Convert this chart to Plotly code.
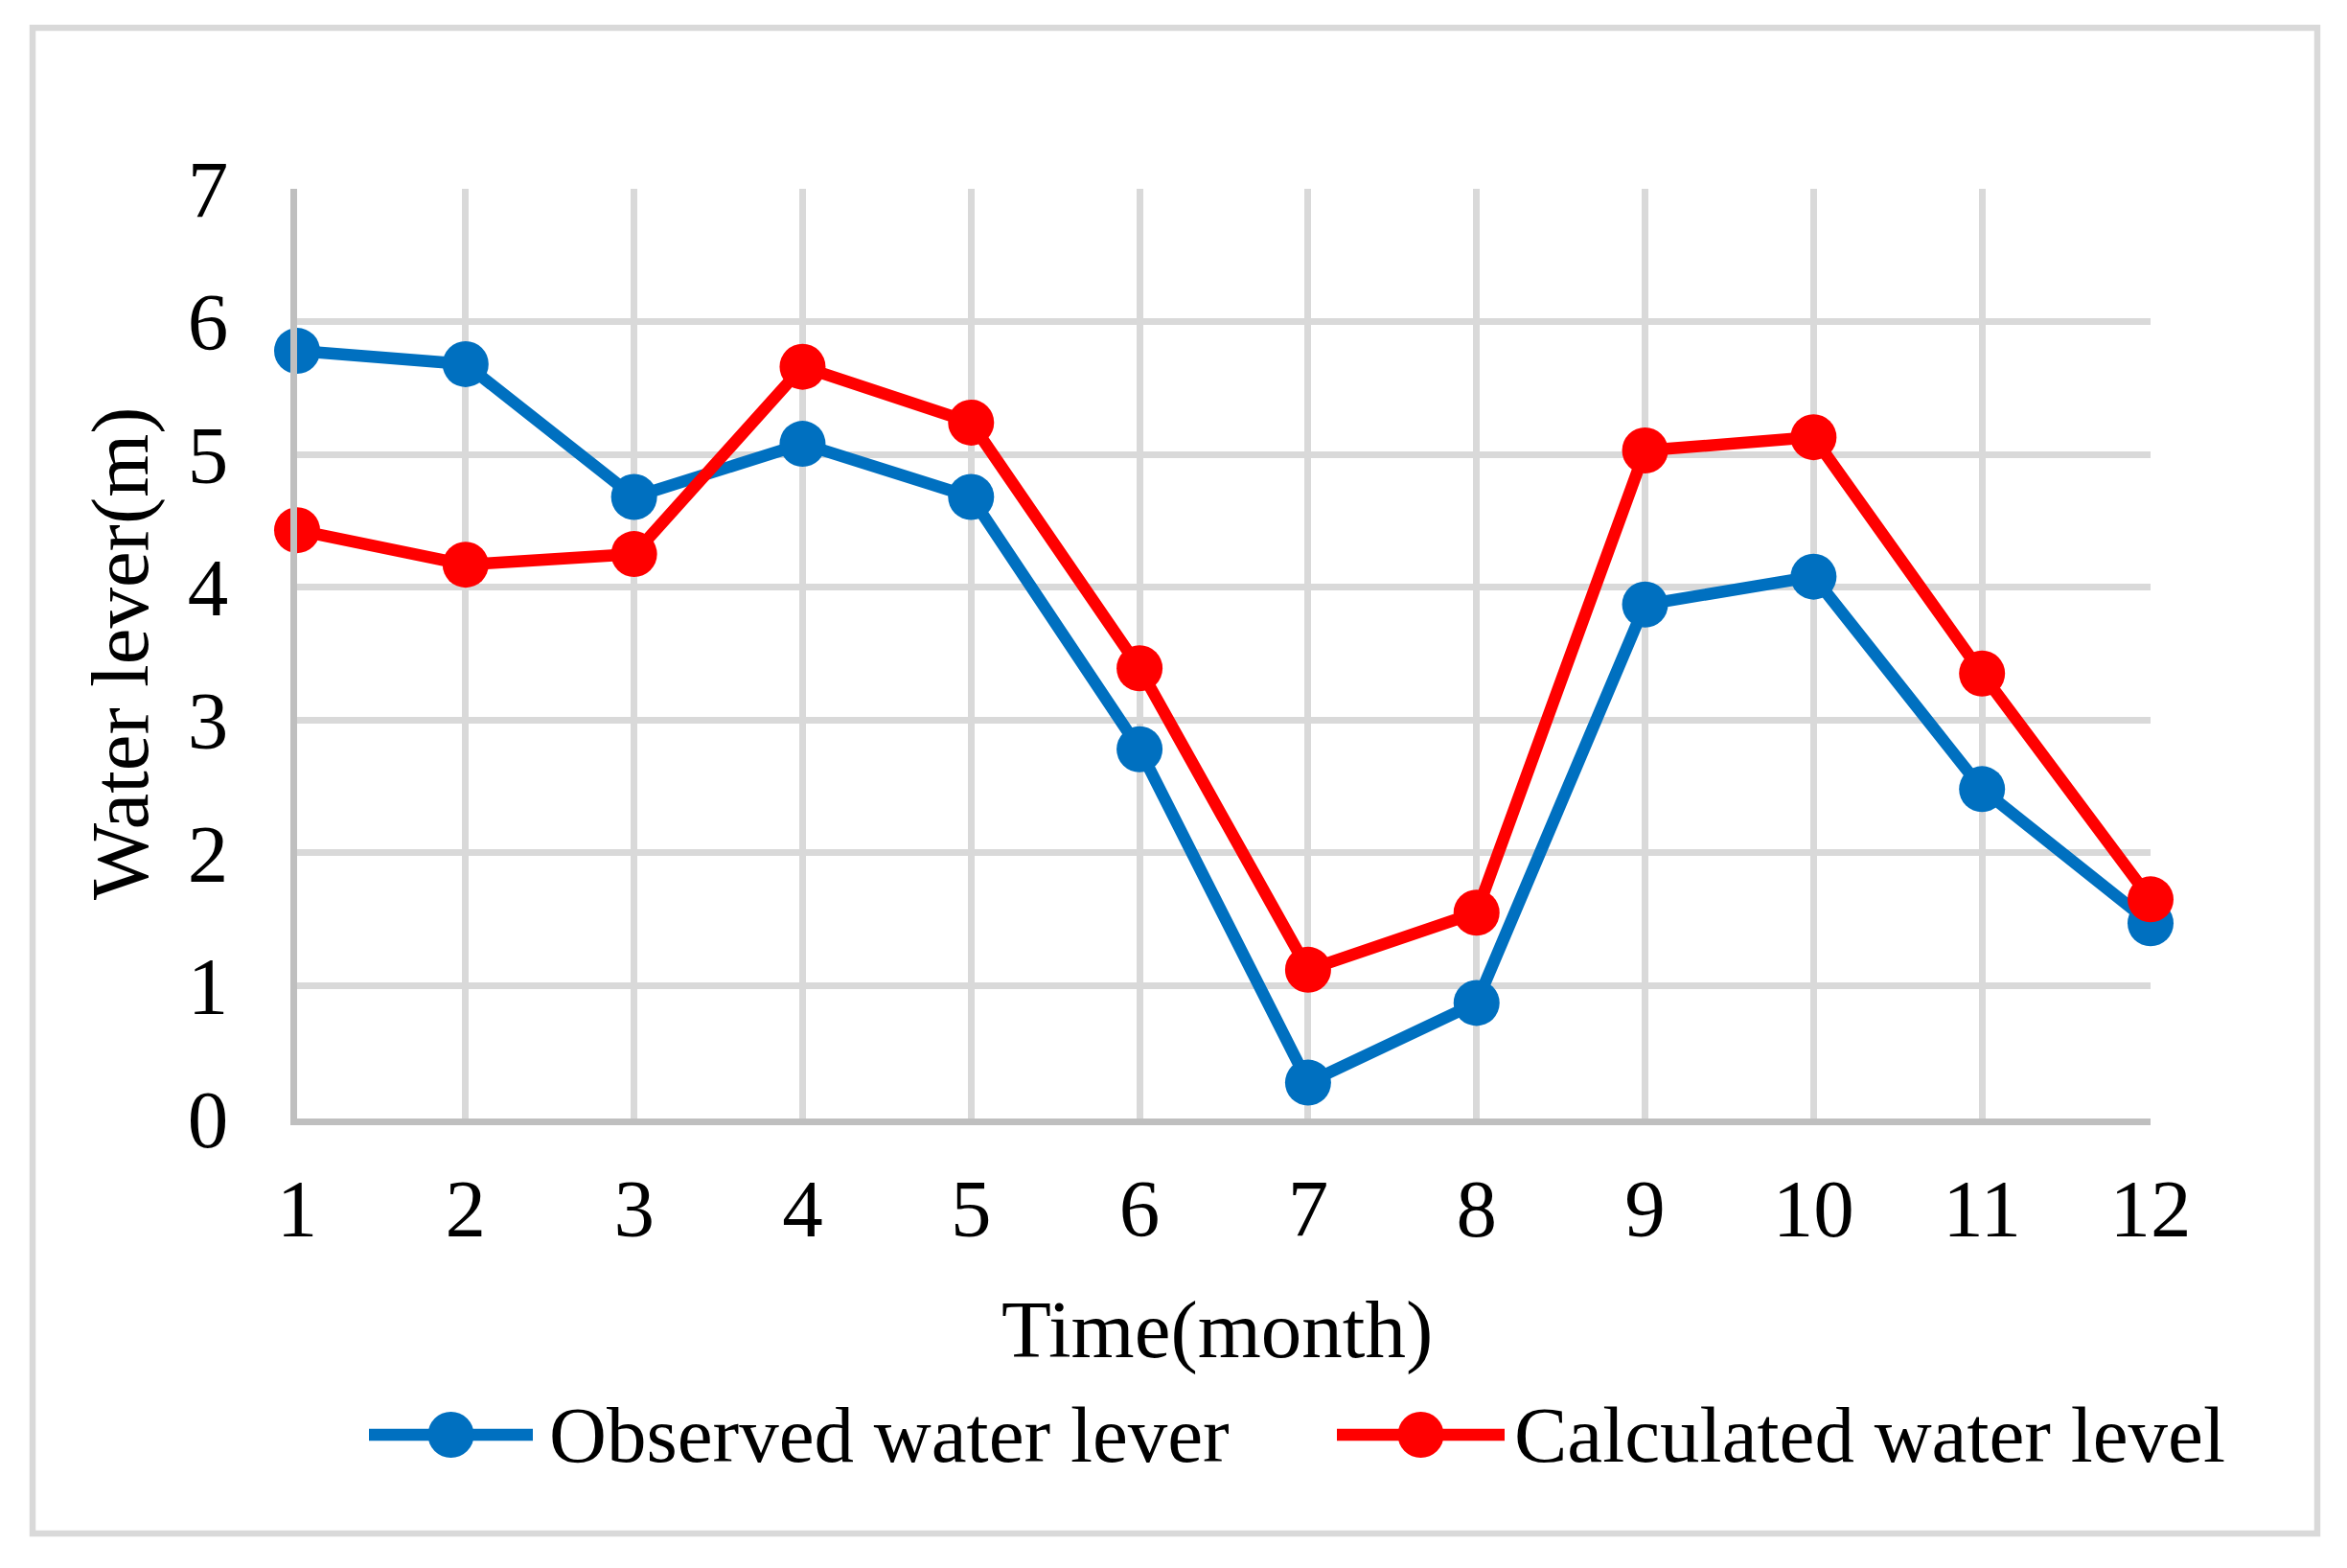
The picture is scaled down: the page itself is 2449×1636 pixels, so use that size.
import plotly.graph_objects as go

# ---- data ----
months = [1, 2, 3, 4, 5, 6, 7, 8, 9, 10, 11, 12]
observed = [5.78, 5.68, 4.68, 5.08, 4.68, 2.78, 0.27, 0.87, 3.87, 4.08, 2.48, 1.47]
calculated = [4.43, 4.17, 4.25, 5.66, 5.24, 3.39, 1.12, 1.55, 5.03, 5.13, 3.35, 1.65]
y_ticks = [0, 1, 2, 3, 4, 5, 6, 7]
series_names = ["Observed water lever", "Calculated water level"]
x_title = "Time(month)"
y_title = "Water lever(m)"

OFF = 8  # browser body margin
W, H = 2449 - OFF, 1636 - OFF
L, R, T, B = 310 - OFF, 2244 - OFF, 197 - OFF, 1167 - OFF   # plot area in pixels
BLUE, RED = "#0070C0", "#FF0000"
GRID, AXIS = "#D9D9D9", "#BFBFBF"
FONT = "Liberation Serif"
FS = 85
FS_LEG = 83


def px(x):
    return (x - OFF - L) / (R - L)


def py(y):
    return (B - (y - OFF)) / (B - T)


fig = go.Figure()
for name, vals, col in [(series_names[0], observed, BLUE), (series_names[1], calculated, RED)]:
    fig.add_trace(go.Scatter(
        x=months, y=vals, name=name, mode="lines+markers",
        line=dict(color=col, width=12.5),
        marker=dict(color=col, size=48, line=dict(width=0)),
        cliponaxis=False, showlegend=False,
    ))

fig.update_xaxes(
    range=[1, 12], tickvals=months, ticktext=[str(m) for m in months],
    showgrid=True, gridcolor=GRID, gridwidth=6.5,
    showline=True, linecolor=AXIS, linewidth=6.5, zeroline=False,
    ticks="", ticklabelstandoff=14,
    tickfont=dict(family=FONT, size=FS, color="black"),
)
fig.update_yaxes(
    range=[0, 7], tickvals=y_ticks, ticktext=[str(v) for v in y_ticks],
    showgrid=True, gridcolor=GRID, gridwidth=6.5,
    showline=True, linecolor=AXIS, linewidth=6.5, zeroline=False,
    ticks="", ticklabelstandoff=48,
    tickfont=dict(family=FONT, size=FS, color="black"),
)

shapes = [
    # outer chart border
    dict(type="rect", xref="paper", yref="paper", x0=px(34), x1=px(2418), y0=py(29), y1=py(1600),
         line=dict(color=GRID, width=6.5), layer="below"),
]
annotations = [
    dict(text=x_title, xref="paper", yref="paper", x=px(1270), y=py(1387),
         xanchor="center", yanchor="middle", showarrow=False,
         font=dict(family=FONT, size=FS, color="black")),
    dict(text=y_title, xref="paper", yref="paper", x=px(125), y=py(682), textangle=-90,
         xanchor="center", yanchor="middle", showarrow=False,
         font=dict(family=FONT, size=FS, color="black")),
]

# custom legend
legend_items = [
    (series_names[0], BLUE, 385, 556, 571),
    (series_names[1], RED, 1395, 1570, 1578),
]
ly = 1497
for name, col, x0, x1, tx in legend_items:
    shapes.append(dict(type="line", xref="paper", yref="paper", x0=px(x0), x1=px(x1), y0=py(ly), y1=py(ly),
                       line=dict(color=col, width=12.5)))
    shapes.append(dict(type="circle", xref="paper", yref="paper", xsizemode="pixel", ysizemode="pixel",
                       xanchor=px((x0 + x1) / 2), yanchor=py(ly), x0=-24, x1=24, y0=-24, y1=24,
                       fillcolor=col, line=dict(width=0)))
    annotations.append(dict(text=name, xref="paper", yref="paper", x=px(tx), y=py(ly),
                            xanchor="left", yanchor="middle", showarrow=False,
                            font=dict(family=FONT, size=FS_LEG, color="black")))

fig.update_layout(
    width=W, height=H,
    margin=dict(l=L, r=W - R, t=T, b=H - B, pad=0),
    paper_bgcolor="white", plot_bgcolor="white",
    shapes=shapes, annotations=annotations,
    showlegend=False,
)

fig.write_html("out.html")
